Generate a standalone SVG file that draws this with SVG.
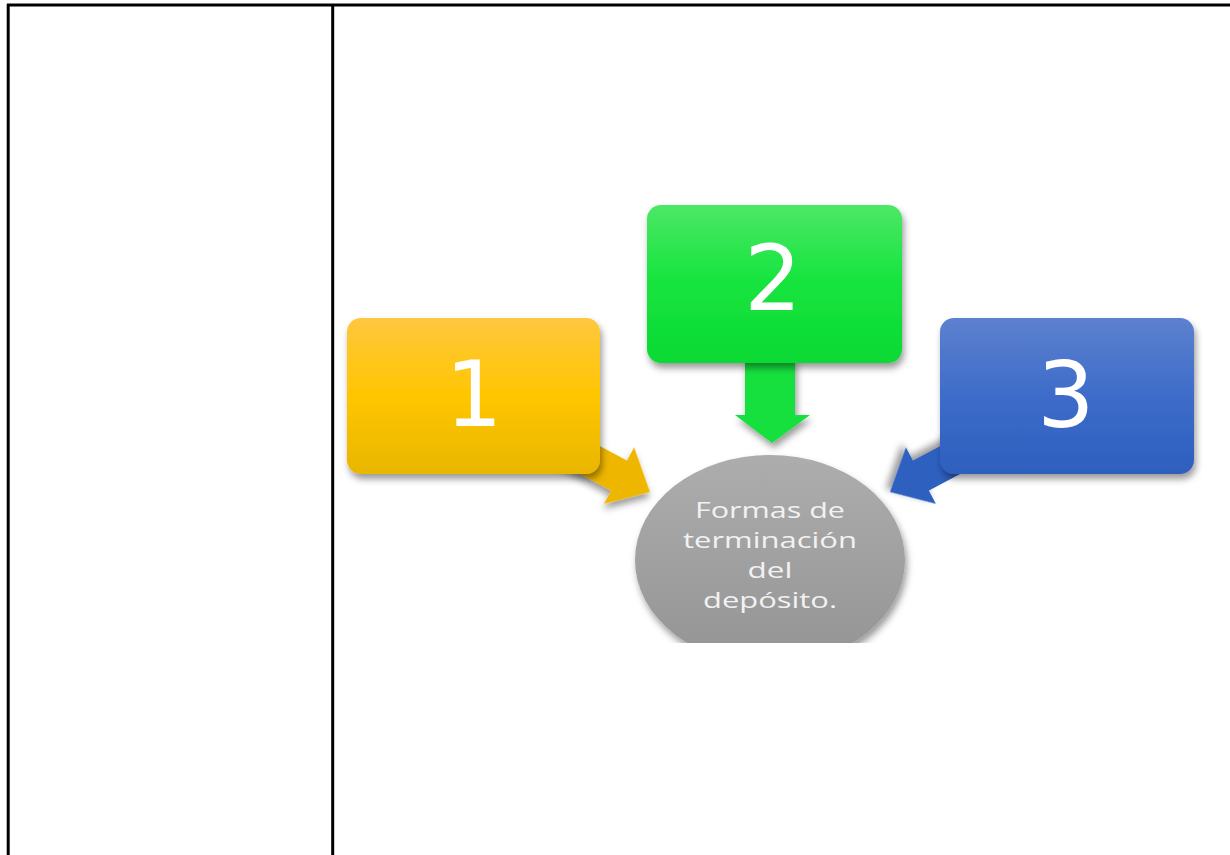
<svg xmlns="http://www.w3.org/2000/svg" width="1230" height="855" viewBox="0 0 1230 855">
<style>
.tbl{stroke:#000;stroke-width:3;fill:none}
.num{font-family:"DejaVu Sans",sans-serif;font-size:90px;fill:#fff;text-anchor:middle}
.lbl{font-family:"Open Sans","Noto Sans",sans-serif;font-size:22px;fill:#f2f2f2;text-anchor:middle}
</style>
<defs>
<linearGradient id="gY" x1="0" y1="0" x2="0" y2="1">
<stop offset="0" stop-color="#ffc73f"/><stop offset="0.5" stop-color="#ffc600"/><stop offset="1" stop-color="#e9b600"/>
</linearGradient>
<linearGradient id="gG" x1="0" y1="0" x2="0" y2="1">
<stop offset="0" stop-color="#4ce866"/><stop offset="0.5" stop-color="#14e43d"/><stop offset="1" stop-color="#0ed934"/>
</linearGradient>
<linearGradient id="gB" x1="0" y1="0" x2="0" y2="1">
<stop offset="0" stop-color="#5d81cf"/><stop offset="0.5" stop-color="#3d6cca"/><stop offset="1" stop-color="#2f5fbe"/>
</linearGradient>
<linearGradient id="gC" x1="0" y1="0" x2="0" y2="1">
<stop offset="0" stop-color="#adadad"/><stop offset="1" stop-color="#949494"/>
</linearGradient>
<filter id="sh" x="-20%" y="-20%" width="140%" height="150%">
<feDropShadow dx="2" dy="5" stdDeviation="3.5" flood-color="#000" flood-opacity="0.4"/>
</filter>
<clipPath id="clip"><rect x="340" y="190" width="880" height="453"/></clipPath>
</defs>

<g id="table">
<line class="tbl" x1="7" y1="5" x2="1230" y2="5"/>
<line class="tbl" x1="8.2" y1="4" x2="8.2" y2="855"/>
<line class="tbl" x1="332.7" y1="4" x2="332.7" y2="855"/>
</g>

<g clip-path="url(#clip)">
<g id="connectors">
<polygon points="0,0 -35,-32 -35,-17 -120,-17 -120,17 -35,17 -35,32" fill="#efb600" filter="url(#sh)" transform="translate(650,492) rotate(28)"/>
<polygon points="745,358 795,358 795,415 810,415 772,443 735,415 745,415" fill="#14e03c" filter="url(#sh)"/>
<polygon points="0,0 -35,-32 -35,-17 -120,-17 -120,17 -35,17 -35,32" fill="#2f60c0" filter="url(#sh)" transform="translate(890,492) rotate(152)"/>
</g>

<g id="center">
<ellipse cx="770" cy="560" rx="135" ry="105" fill="url(#gC)" filter="url(#sh)"/>
<text class="lbl" x="770" y="518" textLength="150" lengthAdjust="spacingAndGlyphs">Formas de</text>
<text class="lbl" x="770" y="548" textLength="174" lengthAdjust="spacingAndGlyphs">terminación</text>
<text class="lbl" x="770" y="578" textLength="45" lengthAdjust="spacingAndGlyphs">del</text>
<text class="lbl" x="770" y="608" textLength="134" lengthAdjust="spacingAndGlyphs">depósito.</text>
</g>

<g id="node1">
<rect x="347" y="318" width="253" height="156" rx="14" fill="url(#gY)" filter="url(#sh)"/>
<text class="num" x="474" y="426">1</text>
</g>

<g id="node2">
<rect x="647" y="205" width="255" height="158" rx="14" fill="url(#gG)" filter="url(#sh)"/>
<text class="num" x="773" y="310">2</text>
</g>

<g id="node3">
<rect x="940" y="318" width="254" height="156" rx="14" fill="url(#gB)" filter="url(#sh)"/>
<text class="num" x="1066" y="427">3</text>
</g>
</g>
</svg>
